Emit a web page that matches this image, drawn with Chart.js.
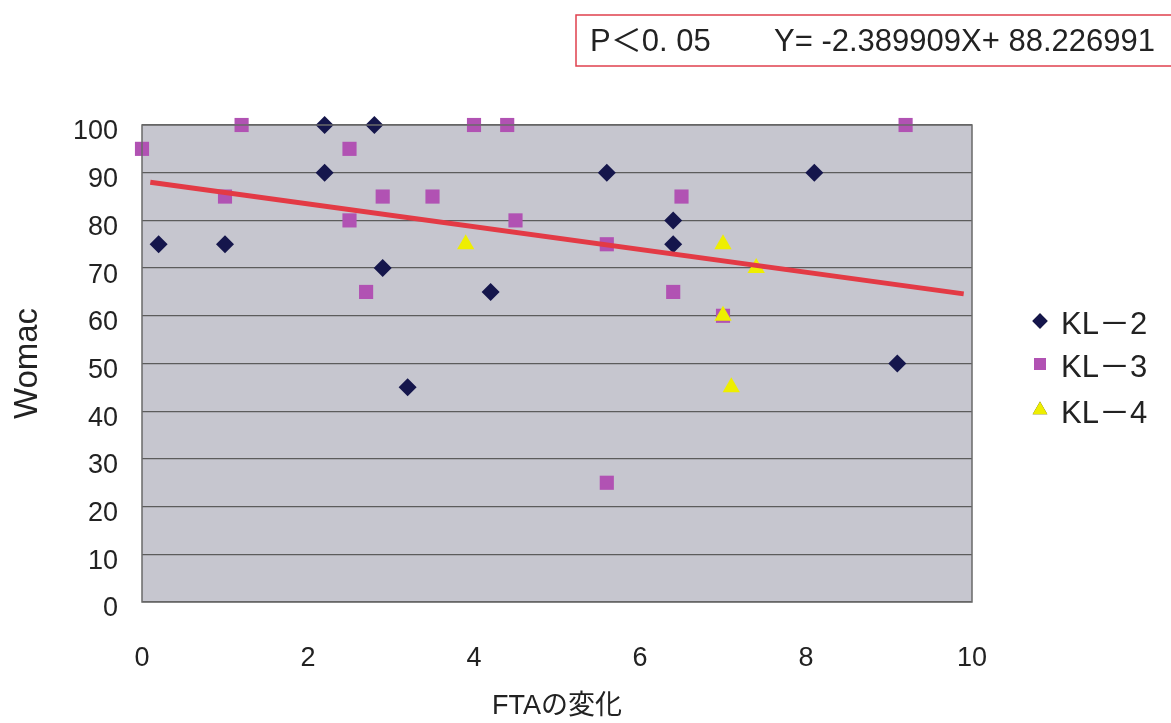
<!DOCTYPE html>
<html>
<head>
<meta charset="utf-8">
<script src="https://cdn.jsdelivr.net/npm/chart.js@4.4.0/dist/chart.umd.min.js"></script>
<style>
  html, body { margin: 0; padding: 0; background: #fff; }
  #wrap { width: 1171px; height: 723px; }
</style>
</head>
<body>
<div id="wrap"><canvas id="chart" width="1171" height="723"></canvas></div>
<script>
// values
const kl2X = [0.2, 1.0, 2.2, 2.2, 2.8, 2.9, 3.2, 4.2, 5.6, 6.4, 6.4, 8.1, 9.1];
const kl2Y = [75, 75, 100, 90, 100, 70, 45, 65, 90, 80, 75, 90, 50];

const kl3X = [0.0, 1.2, 1.0, 2.5, 2.5, 2.9, 2.7, 3.5, 4.0, 4.4, 4.5, 5.6, 6.5, 6.4, 7.0, 5.6, 9.2];
const kl3Y = [95, 100, 85, 95, 80, 85, 65, 85, 100, 100, 80, 75, 85, 65, 60, 25, 100];

const kl4X = [3.9, 7.0, 7.4, 7.0, 7.1];
const kl4Y = [75, 75, 70, 60, 45];

const trendX = [0.1, 9.9];
const trendY = [88.0, 64.6];

const seriesNames = ["KL－2", "KL－3", "KL－4"];
const seriesColors = ["#15164c", "#b152b3", "#eeee00"];
const seriesStyles = ["rectRot", "rect", "triangle"];
const seriesRadius = [9, 10, 10];

const xTicks = [0, 2, 4, 6, 8, 10];
const yTicks = [0, 10, 20, 30, 40, 50, 60, 70, 80, 90, 100];

const pText = "P＜0. 05";
const eqText = "Y= -2.389909X+ 88.226991";

const FONT = "'Liberation Sans', 'Noto Sans CJK JP', Arial, sans-serif";

function pts(xs, ys) {
    return xs.map((x, i) => ({ x, y: ys[i] }));
}

const plotBg = {
    id: 'plotBg',
    beforeDraw(chart) {
        const { ctx, chartArea: a } = chart;
        ctx.save();
        ctx.fillStyle = "#c6c6cf";
        ctx.fillRect(a.left, a.top, a.right - a.left, a.bottom - a.top);
        ctx.restore();
    },
    afterDatasetsDraw(chart) {
        const { ctx, chartArea: a } = chart;
        ctx.save();
        ctx.strokeStyle = "#6a6a6a";
        ctx.lineWidth = 1.5;
        ctx.strokeRect(a.left, a.top, a.right - a.left, a.bottom - a.top);
        ctx.restore();
    }
};

const extras = {
    id: 'extras',
    afterDraw(chart) {
        const ctx = chart.ctx;
        ctx.save();
        // equation box
        ctx.strokeStyle = "#e0404e";
        ctx.lineWidth = 1.5;
        ctx.strokeRect(576, 15, 620, 51);
        ctx.fillStyle = "#222";
        ctx.font = "31px " + FONT;
        ctx.textBaseline = "middle";
        ctx.textAlign = "left";
        ctx.fillText(pText, 590, 42);
        ctx.fillText(eqText, 774, 42);

        // legend
        const ys = [325, 368, 414];
        ctx.font = "31px " + FONT;
        seriesNames.forEach((name, i) => {
            Chart.helpers.drawPoint(ctx, {
                pointStyle: seriesStyles[i],
                radius: seriesRadius[i] * 0.85,
                rotation: 0,
                borderWidth: 0
            }, 1040, ys[i] - 4);
            ctx.fillStyle = seriesColors[i];
            ctx.fill();
            ctx.fillStyle = "#222";
            ctx.fillText(name, 1061, ys[i]);
        });
        ctx.restore();
    }
};

function scatterSet(i, xs, ys, order) {
    return {
        type: 'scatter',
        label: seriesNames[i],
        data: pts(xs, ys),
        pointStyle: seriesStyles[i],
        pointRadius: seriesRadius[i],
        pointHoverRadius: seriesRadius[i],
        backgroundColor: seriesColors[i],
        borderColor: seriesColors[i],
        borderWidth: 0,
        clip: false,
        order: order
    };
}

new Chart(document.getElementById("chart").getContext("2d"), {
    type: 'scatter',
    data: {
        datasets: [
            {
                type: 'line',
                label: 'trend',
                data: pts(trendX, trendY),
                borderColor: "#e33a45",
                borderWidth: 5,
                pointRadius: 0,
                fill: false,
                order: 0
            },
            scatterSet(0, kl2X, kl2Y, 3),
            scatterSet(1, kl3X, kl3Y, 2),
            scatterSet(2, kl4X, kl4Y, 1)
        ]
    },
    options: {
        responsive: false,
        animation: false,
        devicePixelRatio: 1,
        layout: { padding: { left: 0, right: 199, top: 125, bottom: 0 } },
        plugins: {
            legend: { display: false },
            tooltip: { enabled: false }
        },
        scales: {
            x: {
                type: 'linear',
                min: 0,
                max: 10,
                afterFit(scale) { scale.height = 121; },
                afterBuildTicks(scale) { scale.ticks = xTicks.map(v => ({ value: v })); },
                grid: { display: false, drawTicks: false },
                border: { display: false },
                ticks: {
                    padding: 40,
                    color: "#222",
                    font: { family: FONT, size: 27 }
                },
                title: {
                    display: true,
                    text: "FTAの変化",
                    color: "#222",
                    font: { family: FONT, size: 27 },
                    padding: { top: 14, bottom: 0 }
                }
            },
            y: {
                type: 'linear',
                min: 0,
                max: 100,
                afterFit(scale) { scale.width = 142; },
                afterBuildTicks(scale) { scale.ticks = yTicks.map(v => ({ value: v })); },
                grid: { color: "#5c5c5c", lineWidth: 1.3, drawTicks: false },
                border: { display: false },
                ticks: {
                    padding: 24,
                    labelOffset: 7,
                    color: "#222",
                    font: { family: FONT, size: 27 }
                },
                title: {
                    display: true,
                    text: "Womac",
                    color: "#222",
                    font: { family: FONT, size: 33 },
                    padding: { top: 8, bottom: 0 }
                }
            }
        }
    },
    plugins: [plotBg, extras]
});
</script>
</body>
</html>
